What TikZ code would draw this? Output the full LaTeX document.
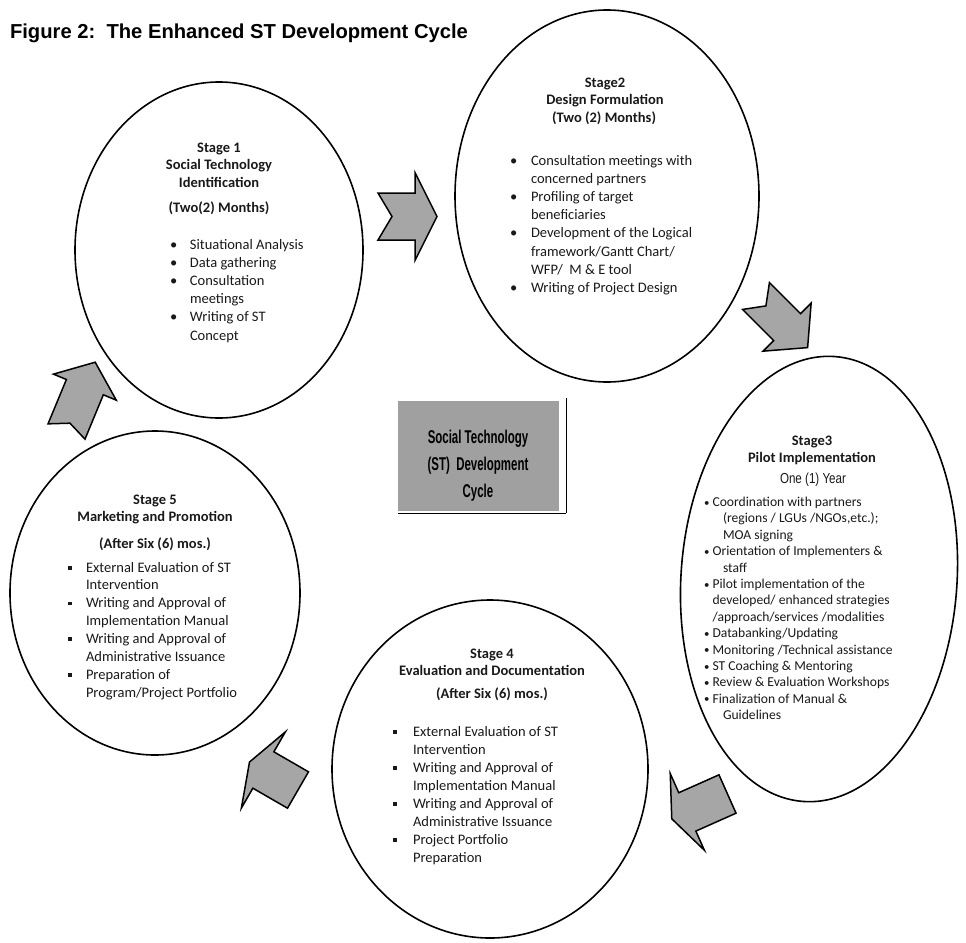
\documentclass[tikz,border=0pt]{standalone}
\usepackage{fontspec}
\setmainfont{Carlito}
\newfontfamily\arialfont{Liberation Sans}
\newfontfamily\narrowfont[FakeStretch=0.8]{Liberation Sans}
\newfontfamily\boxfont[FakeStretch=0.62]{Liberation Sans}

\definecolor{arrowgray}{RGB}{166,166,166}
\definecolor{boxgray}{RGB}{160,160,160}
\definecolor{inkdark}{RGB}{25,25,25}

% bullet markers for the stage lists
\newcommand{\dotitem}[1]{\makebox[#1][l]{\textbullet}}
\newcommand{\smalldot}[1]{\makebox[#1][l]{\raisebox{0.5pt}{\scalebox{0.8}{\textbullet}}}}
\newcommand{\sqitem}[1]{\makebox[#1][l]{\raisebox{2.4pt}{\rule{3.8pt}{3.8pt}}}}

\begin{document}
\begin{tikzpicture}[x=1pt,y=-1pt,
  stage/.style={draw=black,line width=1.6pt},
  arrowbody/.style={draw=black,line width=1.5pt,fill=arrowgray,line join=miter},
  txt/.style={inner sep=0pt,outer sep=0pt,text=inkdark},
  headfont/.style={font=\bfseries\fontsize{14.5}{17.5}\selectfont},
  listfont/.style={font=\fontsize{14.5}{18.2}\selectfont},
  pics/blockarrow/.style n args={5}{code={%
    % #1 shaft length, #2 shaft half width, #3 head half width,
    % #4 head length, #5 notch depth
    \draw[arrowbody] (0,-#2) -- (#1,-#2) -- (#1,-#3) -- ({#1+#4},0)
      -- (#1,#3) -- (#1,#2) -- (0,#2) -- (#5,0) -- cycle;
  }}]
\useasboundingbox (0,0) rectangle (966,942);

% title
\node[txt,anchor=base west,text=black,
  font=\arialfont\bfseries\fontsize{20.2}{24}\selectfont] (title) at (10,38)
  {Figure 2:\ \ The Enhanced ST Development Cycle};

% the five stage ellipses
\draw[stage] (219,250) ellipse [x radius=144, y radius=168];
\draw[stage] (607,196) ellipse [x radius=152, y radius=186];
\draw[stage,rotate around={-4:(819,579)}] (819,579) ellipse [x radius=138, y radius=223];
\draw[stage] (490,769) ellipse [x radius=158, y radius=169];
\draw[stage] (155,593) ellipse [x radius=145, y radius=162];

% block arrows between the stages
\pic at (378,216.5) {blockarrow={37}{23.5}{44}{22}{14}};
\pic[rotate=-45] at (756,296) {blockarrow={44}{19}{34}{29}{14}};
\pic[rotate=204] at (727.5,794) {blockarrow={44}{21}{42}{17}{0}};
\pic[rotate=150] at (298,790) {blockarrow={40}{21}{44}{16}{0}};
\pic[rotate=67.5] at (66.5,431.5) {blockarrow={48}{20}{34}{27}{9}};

% central label
\fill[boxgray] (398,401) rectangle (559,511);
\draw[line width=1pt] (566,398) -- (566,513);
\draw[line width=1pt] (398,513) -- (566,513);
\node[txt,anchor=base,text=black,
  font=\boxfont\bfseries\fontsize{18.5}{27}\selectfont] (core) at (478,443)
  {\begin{tabular}[t]{@{}c@{}}Social Technology\\(ST)\ \ Development\\Cycle\end{tabular}};

% Stage 1
\node[txt,headfont,anchor=base] (s1head) at (219,152)
  {\begin{tabular}[t]{@{}c@{}}Stage 1\\Social Technology\\Identification\end{tabular}};
\node[txt,headfont,anchor=base] (s1time) at (219,212) {(Two(2) Months)};
\node[txt,listfont,anchor=base west] (s1list) at (170,249)
  {\begin{tabular}[t]{@{}l@{}}
   \dotitem{20pt}Situational Analysis\\
   \dotitem{20pt}Data gathering\\
   \dotitem{20pt}Consultation\\
   \hspace*{20pt}meetings\\
   \dotitem{20pt}Writing of ST\\
   \hspace*{20pt}Concept
   \end{tabular}};

% Stage 2
\node[txt,headfont,anchor=base] (s2head) at (605,87)
  {\begin{tabular}[t]{@{}c@{}}Stage2\\Design Formulation\end{tabular}};
\node[txt,headfont,anchor=base] (s2time) at (604,122) {(Two (2) Months)};
\node[txt,listfont,anchor=base west] (s2list) at (510,165)
  {\begin{tabular}[t]{@{}l@{}}
   \dotitem{21pt}Consultation meetings with\\
   \hspace*{21pt}concerned partners\\
   \dotitem{21pt}Profiling of target\\
   \hspace*{21pt}beneficiaries\\
   \dotitem{21pt}Development of the Logical\\
   \hspace*{21pt}framework/Gantt Chart/\\
   \hspace*{21pt}WFP/\ \ M \& E tool\\
   \dotitem{21pt}Writing of Project Design
   \end{tabular}};

% Stage 3
\node[txt,headfont,anchor=base] (s3head) at (812,445)
  {\begin{tabular}[t]{@{}c@{}}Stage3\\Pilot Implementation\end{tabular}};
\node[txt,anchor=base,font=\narrowfont\fontsize{14.5}{17}\selectfont] (s3time) at (813,483) {One (1) Year};
\node[txt,anchor=base west,font=\fontsize{13.6}{16.4}\selectfont] (s3list) at (704,506.5)
  {\begin{tabular}[t]{@{}l@{}}
   \smalldot{8.5pt}Coordination with partners\\
   \hspace*{19pt}(regions / LGUs /NGOs,etc.);\\
   \hspace*{19pt}MOA signing\\
   \smalldot{8.5pt}Orientation of Implementers \&\\
   \hspace*{19pt}staff\\
   \smalldot{8.5pt}Pilot implementation of the\\
   \hspace*{8.5pt}developed/ enhanced strategies\\
   \hspace*{8.5pt}/approach/services /modalities\\
   \smalldot{8.5pt}Databanking/Updating\\
   \smalldot{8.5pt}Monitoring /Technical assistance\\
   \smalldot{8.5pt}ST Coaching \& Mentoring\\
   \smalldot{8.5pt}Review \& Evaluation Workshops\\
   \smalldot{8.5pt}Finalization of Manual \&\\
   \hspace*{19pt}Guidelines
   \end{tabular}};

% Stage 4
\node[txt,headfont,anchor=base] (s4head) at (492,658)
  {\begin{tabular}[t]{@{}c@{}}Stage 4\\Evaluation and Documentation\end{tabular}};
\node[txt,headfont,anchor=base] (s4time) at (492,698) {(After Six (6) mos.)};
\node[txt,anchor=base west,font=\fontsize{14.5}{18}\selectfont] (s4list) at (393,736.5)
  {\begin{tabular}[t]{@{}l@{}}
   \sqitem{20pt}External Evaluation of ST\\
   \hspace*{20pt}Intervention\\
   \sqitem{20pt}Writing and Approval of\\
   \hspace*{20pt}Implementation Manual\\
   \sqitem{20pt}Writing and Approval of\\
   \hspace*{20pt}Administrative Issuance\\
   \sqitem{20pt}Project Portfolio\\
   \hspace*{20pt}Preparation
   \end{tabular}};

% Stage 5
\node[txt,headfont,anchor=base] (s5head) at (155,504)
  {\begin{tabular}[t]{@{}c@{}}Stage 5\\Marketing and Promotion\end{tabular}};
\node[txt,headfont,anchor=base] (s5time) at (155,548) {(After Six (6) mos.)};
\node[txt,anchor=base west,font=\fontsize{14.5}{17.9}\selectfont] (s5list) at (68,572)
  {\begin{tabular}[t]{@{}l@{}}
   \sqitem{18pt}External Evaluation of ST\\
   \hspace*{18pt}Intervention\\
   \sqitem{18pt}Writing and Approval of\\
   \hspace*{18pt}Implementation Manual\\
   \sqitem{18pt}Writing and Approval of\\
   \hspace*{18pt}Administrative Issuance\\
   \sqitem{18pt}Preparation of\\
   \hspace*{18pt}Program/Project Portfolio
   \end{tabular}};

\end{tikzpicture}
\end{document}
